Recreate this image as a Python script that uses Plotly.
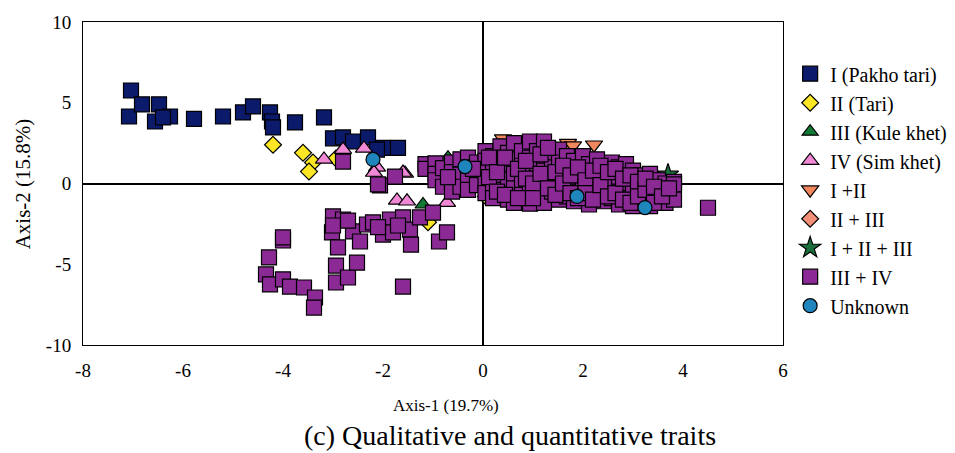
import plotly.graph_objects as go

# ---------------- data ----------------
g1_x = [-7.04, -7.08, -6.82, -6.56, -6.48, -6.26, -6.4, -5.78, -5.2, -4.8, -4.6, -4.26, -4.22, -4.2,
        -3.76, -3.18, -3.0, -2.8, -2.6, -2.3, -2.0, -1.7, -2.12]
g1_y = [5.76, 4.15, 4.9, 3.84, 4.9, 4.15, 4.1, 4.0, 4.15, 4.4, 4.77, 4.4, 3.84, 3.47,
        3.78, 4.09, 2.8, 2.85, 2.6, 2.85, 2.2, 2.2, 2.1]

g2_x = [-4.2, -3.6, -3.4, -3.48, -2.94, -1.1, -0.92, 0.06, -0.14]
g2_y = [2.4, 1.9, 1.3, 0.74, 1.55, -2.4, 0.25, -0.8, 0.06]

g3_x = [-1.2, -0.7, 1.9]
g3_y = [-1.3, 1.6, -0.2]

g4_x = [-3.18, -2.8, -2.38, -2.12, -2.18, -1.56, -1.72, -1.52, -0.72, -1.6, -0.76, 0.8, 1.28]
g4_y = [1.49, 2.1, 2.17, 1.0, 0.68, 0.62, -1.05, -1.1, -1.18, 0.68, 0.43, 2.5, 1.9]

g12_x = [0.4, 1.0, 1.7, 1.44, 0.88, 0.3, 0.48, 0.7, 1.8, 2.22]
g12_y = [2.78, 2.78, 2.5, 2.1, 2.1, -0.87, 1.05, 1.5, 2.35, 2.4]

g23_x = [0.75, -0.15]
g23_y = [1.5, 0.05]

g123_x = [3.7]
g123_y = [0.55]

g34_x = [
    # lower-left group
    -4.0, -4.28, -4.34, -4.26, -4.0, -3.86, -3.58, -3.36, -3.38, -2.94, -2.94, -2.7, -2.52, -1.6,
    -3.0, -3.02, -2.9, -2.8, -2.6, -2.46, -2.32, -2.2, -2.0, -1.86, -1.8, -1.6, -1.46, -1.44,
    -1.26, -1.0, -0.88, -0.72, -2.06, -0.36, -3.0, -2.7, -2.1, -1.7, -4.0,
    # upper-left
    -2.8, -1.76, -2.1,
    # central cluster
    -1.15, -1.15, -0.95, -0.95, -0.95, -0.8, -0.8, -0.62, -0.62, -0.62, -0.62,
    -0.45, -0.45, -0.45, -0.3, -0.3, -0.3, -0.3, -0.12, -0.12, -0.12,
    0.05, 0.05, 0.05, 0.05, 0.05, 0.2, 0.2, 0.2, 0.2, 0.35, 0.35, 0.35, 0.35,
    0.5, 0.5, 0.5, 0.5, 0.62, 0.62, 0.62, 0.62, 0.62, 0.78, 0.78, 0.78, 0.78,
    0.94, 0.94, 0.94, 0.94, 0.94, 1.08, 1.08, 1.08, 1.08, 1.22, 1.22, 1.22, 1.22, 1.22,
    1.38, 1.38, 1.38, 1.38, 1.52, 1.52, 1.52, 1.52, 1.52, 1.68, 1.68, 1.68, 1.68,
    1.82, 1.82, 1.82, 1.82, 2.0, 2.0, 2.0, 2.0, 2.12, 2.12, 2.12, 2.12, 2.28, 2.28, 2.28,
    2.42, 2.42, 2.42, 2.42, 2.58, 2.58, 2.58, 2.58, 2.72, 2.72, 2.72, 2.72, 2.86, 2.86, 2.86,
    3.0, 3.0, 3.0, 3.0, 3.15, 3.15, 3.15, 3.34, 3.34, 3.34, 3.34, 3.5, 3.5, 3.5,
    3.65, 3.65, 3.65, 3.82, 3.82, 3.82, 4.5,
    -0.7, -0.2, 0.12, 0.12, 0.28, 0.28, 0.44, 0.44, 0.7, 0.7, 0.86, 0.86, 1.0, 1.0,
    1.15, 1.15, 1.3, 1.3, 1.45, 1.45, 1.6, 1.6, 1.75, 1.75, 1.9, 1.9, 2.05, 2.05,
    2.2, 2.2, 2.35, 2.35, 2.5, 2.5, 2.65, 2.65, 2.8, 2.8, 2.95, 2.95, 3.1, 3.1,
    3.25, 3.25, 3.42, 3.42, 3.58, 3.72,
]
g34_y = [
    -3.53, -4.58, -5.63, -6.25, -5.94, -6.38, -6.44, -7.06, -7.68, -5.08, -6.13, -5.82, -4.9, -6.38,
    -2.04, -3.03, -3.96, -2.23, -2.97, -3.59, -2.54, -2.41, -3.16, -2.23, -3.03, -2.1, -2.85, -3.78,
    -2.1, -1.8, -3.59, -3.03, -0.12, -0.25, -2.6, -2.3, -2.7, -2.6, -3.34,
    1.36, 0.43, -0.06,
    1.2, 0.9, 1.25, 0.6, 0.2, 0.95, -0.2, 1.3, 0.7, 0.1, -0.5,
    1.5, 0.55, -0.2, 1.6, 1.0, 0.2, -0.4, 1.3, 0.6, -0.1,
    2.0, 1.4, 0.8, 0.1, -0.6, 1.7, 1.0, -0.06, -0.9, 2.3, 1.3, 0.5, -0.4,
    1.9, 0.9, 0.25, -1.0, 2.5, 1.5, 0.6, -0.3, -1.2, 2.0, 1.1, 0.1, -0.7,
    2.6, 1.6, 0.7, -0.5, -1.25, 2.0, 1.2, 0.3, -0.2, 2.6, 1.5, 0.8, -0.8, -1.2,
    1.9, 1.0, 0.1, -0.5, 2.1, 1.3, 0.5, -0.3, -1.0, 1.7, 0.8, -0.1, -0.8,
    1.4, 0.3, -0.5, -1.1, 1.7, 0.9, 0.43, -0.2, 1.2, 0.0, -0.8, -1.3, 1.5, 0.6, -0.3,
    1.0, 0.2, -0.6, -1.1, 1.3, 0.5, -0.2, -0.9, 1.0, 0.0, -0.5, -1.3, 1.2, 0.4, -0.9,
    0.8, -0.1, -0.6, -1.4, 0.5, -0.3, -1.1, 0.6, -0.06, -0.8, -1.4, 0.2, -0.5, -1.1,
    0.0, -0.5, -1.2, 0.1, -0.06, -1.0, -1.5,
    0.4, 0.9, 0.4, 1.6, 0.7, -0.5, 1.6, -0.7, 0.9, -0.9, 1.4, 0.3, 0.0, -0.9,
    1.8, 0.6, 2.2, -0.3, 0.7, -0.7, 1.1, 0.0, 0.5, -0.6, 1.0, -0.9, 0.2, -0.6,
    0.8, -1.0, 1.1, -0.1, 0.7, -0.8, -0.6, 0.9, 0.3, -1.0, 0.5, -1.2, 0.1, -0.8,
    -0.4, 0.3, -0.2, -1.2, -0.8, -0.3,
]

unk_x = [-2.2, -0.36, 1.88, 3.24]
unk_y = [1.49, 1.05, -0.8, -1.49]

series_names = ["I (Pakho tari)", "II (Tari)", "III (Kule khet)", "IV (Sim khet)", "I +II",
                "II + III", "I + II + III", "III + IV", "Unknown"]
x_ticks = [-8, -6, -4, -2, 0, 2, 4, 6]
y_ticks = [-10, -5, 0, 5, 10]

# ---------------- styles ----------------
styles = [
    (g1_x, g1_y, "square", "#0b1a6b", 15),
    (g2_x, g2_y, "diamond", "#fbe626", 13),
    (g3_x, g3_y, "triangle-up", "#137a35", 14),
    (g4_x, g4_y, "triangle-up", "#f088d6", 15),
    (g12_x, g12_y, "triangle-down", "#f0875e", 15),
    (g23_x, g23_y, "diamond", "#f3907a", 13),
    (g123_x, g123_y, "star", "#1a6e3c", 16),
    (g34_x, g34_y, "square", "#8b2a95", 15),
    (unk_x, unk_y, "circle", "#1f86bd", 14),
]

FONT = "Liberation Serif"
fig = go.Figure()
for i, (name, (xs, ys, sym, col, sz)) in enumerate(zip(series_names, styles)):
    fig.add_trace(go.Scatter(
        x=xs, y=ys, mode="markers", name=name, legendgroup=f"g{i}",
        marker=dict(symbol=sym, color=col, size=sz, line=dict(color="black", width=1.2)),
    ))

fig.update_layout(
    width=955, height=453,
    margin=dict(l=75, r=180, t=14, b=116),
    plot_bgcolor="white", paper_bgcolor="white",
    font=dict(family=FONT, size=19, color="black"),
    showlegend=True,
    legend=dict(xref="container", yref="container", x=0.819, y=0.898,
                xanchor="left", yanchor="top", maxheight=320,
                font=dict(family=FONT, size=20, color="black"),
                traceorder="grouped", tracegroupgap=0, itemsizing="trace",
                bgcolor="rgba(0,0,0,0)"),
    xaxis=dict(range=[-8, 6], tickvals=x_ticks, ticktext=[str(v) for v in x_ticks],
               automargin=False,
               showgrid=False, zeroline=True, zerolinecolor="black", zerolinewidth=2,
               showline=True, linecolor="black", linewidth=1, mirror=True,
               ticks="outside", ticklen=8, tickcolor="rgba(0,0,0,0)", tickfont=dict(size=19)),
    yaxis=dict(range=[-10, 10], tickvals=y_ticks, ticktext=[str(v) for v in y_ticks],
               automargin=False,
               showgrid=False, zeroline=True, zerolinecolor="black", zerolinewidth=2,
               showline=True, linecolor="black", linewidth=1, mirror=True,
               ticks="outside", ticklen=7, tickcolor="rgba(0,0,0,0)", tickfont=dict(size=19)),
    annotations=[
        dict(text="Axis-1 (19.7%)", xref="paper", yref="paper", x=0.519, y=-0.186,
             xanchor="center", yanchor="middle", showarrow=False, font=dict(family=FONT, size=17)),
        dict(text="Axis-2 (15.8%)", xref="paper", yref="paper", x=-0.086, y=0.5, textangle=-90,
             xanchor="center", yanchor="middle", showarrow=False, font=dict(family=FONT, size=21)),
        dict(text="(c) Qualitative and quantitative traits", xref="paper", yref="paper",
             x=0.61, y=-0.279, xanchor="center", yanchor="middle", showarrow=False,
             font=dict(family=FONT, size=28)),
    ],
)

fig.write_html("out.html")
